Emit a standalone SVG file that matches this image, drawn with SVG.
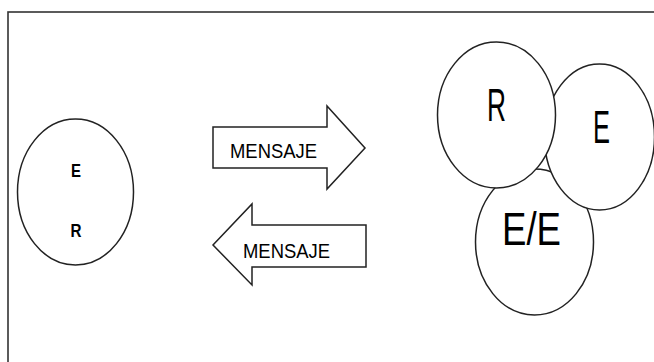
<svg xmlns="http://www.w3.org/2000/svg" width="654" height="362" viewBox="0 0 654 362">
<style>
.sh{fill:#fff;stroke:#222;stroke-width:1.5}
.t{font-family:"Liberation Sans",Arial,sans-serif;fill:#000}
.big{font-size:47px}
.msg{font-size:21px}
.sm{font-size:18px;font-weight:bold}
</style>
<rect x="8" y="12" width="680" height="400" fill="#fff" stroke="#333" stroke-width="1.6"/>
<g id="node-er">
<ellipse class="sh" cx="75.5" cy="192" rx="58" ry="73"/>
<text class="t sm" x="71" y="177" textLength="10" lengthAdjust="spacingAndGlyphs">E</text>
<text class="t sm" x="70.5" y="237" textLength="11" lengthAdjust="spacingAndGlyphs">R</text>
</g>
<g id="connectors">
<g id="arrow-right">
<path class="sh" d="M213,127 H327 V106 L365,148 L327,189 V168 H213 Z"/>
<text class="t msg" x="230" y="158" textLength="87" lengthAdjust="spacingAndGlyphs">MENSAJE</text>
</g>
<g id="arrow-left">
<path class="sh" d="M366,225 H252 V204 L213,245 L252,285 V267 H366 Z"/>
<text class="t msg" x="243" y="258" textLength="87" lengthAdjust="spacingAndGlyphs">MENSAJE</text>
</g>
</g>
<g id="node-ee">
<ellipse class="sh" cx="534.5" cy="242" rx="59" ry="73"/>
<text class="t big" x="502" y="245" textLength="59" lengthAdjust="spacingAndGlyphs">E/E</text>
</g>
<g id="node-e">
<ellipse class="sh" cx="599.5" cy="137" rx="55" ry="73"/>
<text class="t big" x="593" y="143" textLength="17" lengthAdjust="spacingAndGlyphs">E</text>
</g>
<g id="node-r">
<ellipse class="sh" cx="496.5" cy="115" rx="59" ry="73"/>
<text class="t big" x="487" y="121" textLength="19" lengthAdjust="spacingAndGlyphs">R</text>
</g>
</svg>
